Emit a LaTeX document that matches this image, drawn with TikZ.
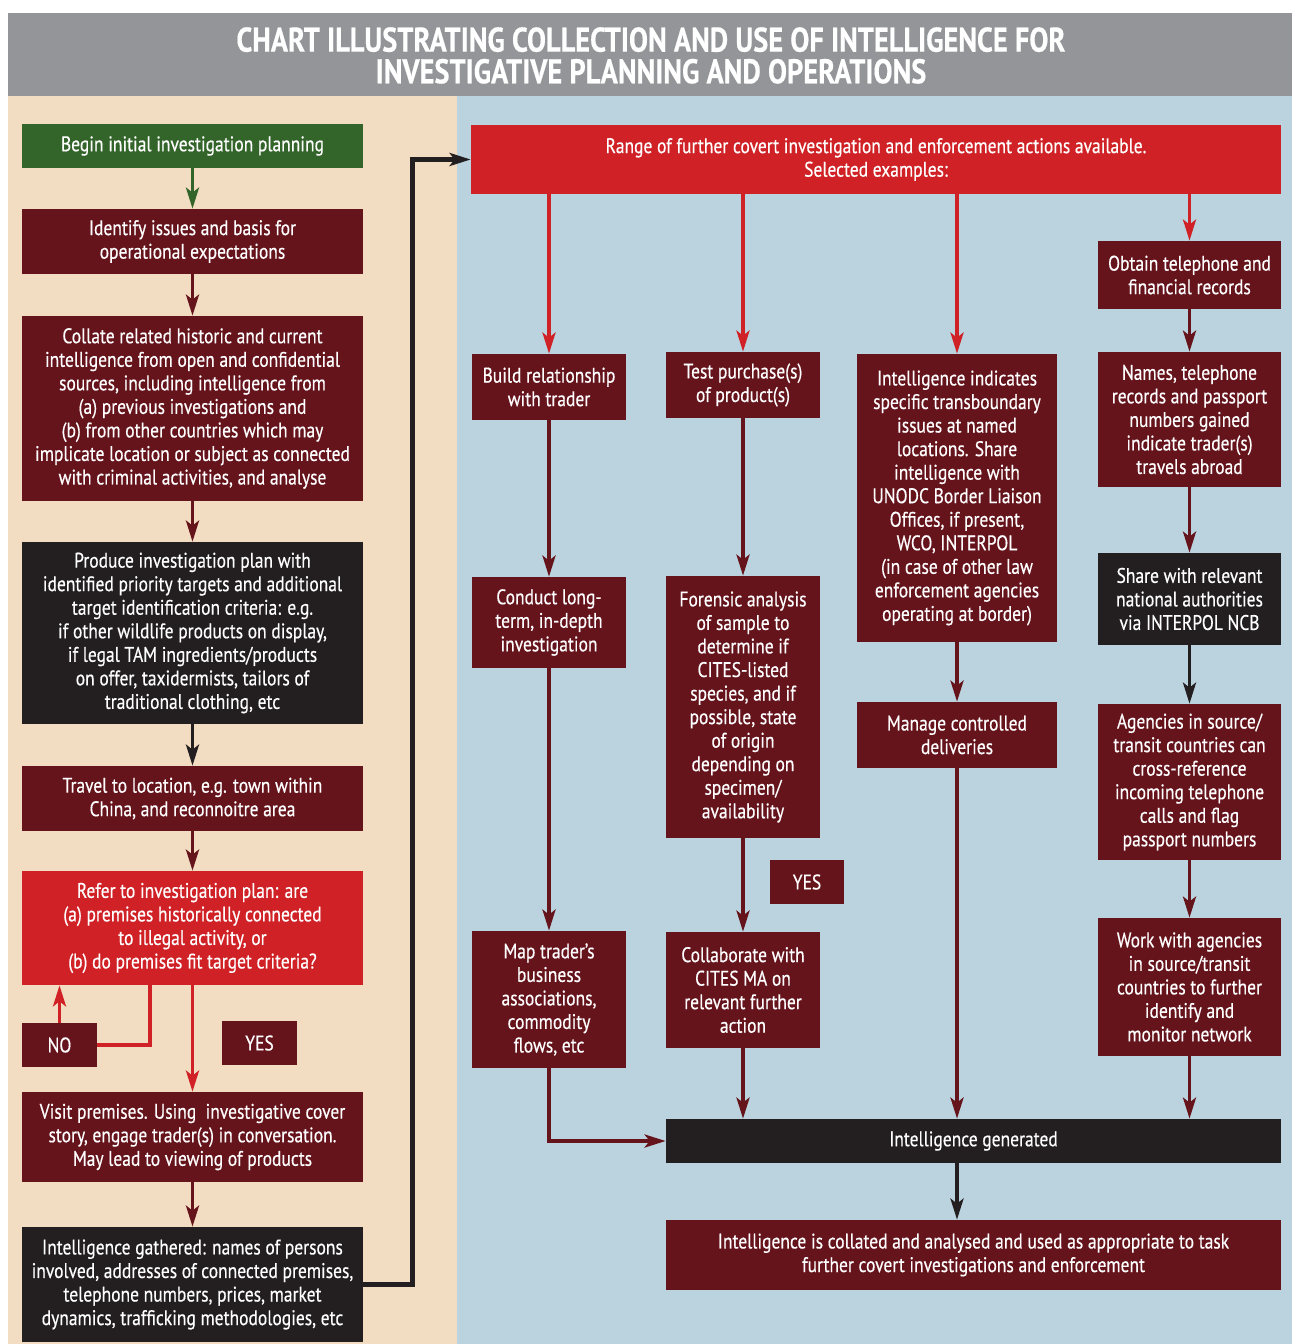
\documentclass[tikz,border=0pt]{standalone}
\usepackage{fontspec}
\setmainfont{PT Sans}[FakeStretch=0.83, FakeBold=0.4]
\usetikzlibrary{arrows.meta}

\definecolor{bandgray}{HTML}{939598}
\definecolor{paneltan}{HTML}{F2DCC2}
\definecolor{panelblue}{HTML}{BAD3DE}
\definecolor{boxgreen}{HTML}{33652A}
\definecolor{boxdark}{HTML}{65141C}
\definecolor{boxred}{HTML}{D02226}
\definecolor{boxblack}{HTML}{231F20}

\tikzset{
  ibox/.style={rectangle, inner sep=0pt, text=white, align=center,
    font=\fontsize{12}{13.4}\selectfont},
  flow/.style={line width=0.07cm, -{Stealth[length=0.42cm,width=0.26cm,inset=0.1cm]}},
}

% box from its corners, in pixels of the reference
\newcommand{\flowbox}[7][boxdark]{%
  \node[ibox, fill=#1, minimum width={(#5-#3)*0.02cm},
    minimum height={(#6-#4)*0.02cm}] (#2) at ({(#3+#5)/2},{(#4+#6)/2}) {#7};}

\begin{document}
\begin{tikzpicture}[x=0.02cm, y=-0.02cm]
    \useasboundingbox (0,0) rectangle (1292,1344);
    \fill[bandgray] (8,13) rectangle (1292,96);
    \fill[paneltan] (8,96) rectangle (457,1344);
    \fill[panelblue] (457,96) rectangle (1292,1344);

    \node[text=white, align=center, font=\bfseries\fontsize{19.5}{18}\selectfont] (title) at (651,55.5)
      {CHART ILLUSTRATING COLLECTION AND USE OF INTELLIGENCE FOR\\INVESTIGATIVE PLANNING AND OPERATIONS};

    % left column
    \flowbox[boxgreen]{begin}{22}{124}{363}{168}{Begin initial investigation planning}
    \flowbox{issues}{22}{209}{363}{274}{Identify issues and basis for\\operational expectations}
    \flowbox{collate}{22}{316}{363}{501}{Collate related historic and current\\intelligence from open and confidential\\sources, including intelligence from\\(a) previous investigations and\\(b) from other countries which may\\implicate location or subject as connected\\with criminal activities, and analyse}
    \flowbox[boxblack]{plan}{22}{542}{363}{724}{Produce investigation plan with\\identified priority targets and additional\\target identification criteria: e.g.\\if other wildlife products on display,\\if legal TAM ingredients/products\\on offer, taxidermists, tailors of\\traditional clothing, etc}
    \flowbox{travel}{22}{766}{363}{831}{Travel to location, e.g. town within\\China, and reconnoitre area}
    \flowbox[boxred]{refer}{22}{871}{363}{985}{Refer to investigation plan: are\\(a) premises historically connected\\to illegal activity, or\\(b) do premises fit target criteria?}
    \flowbox{no}{22}{1023}{97}{1067}{NO}
    \flowbox{yes}{222}{1021}{297}{1065}{YES}
    \flowbox{visit}{22}{1092}{363}{1182}{Visit premises. Using\ \ investigative cover\\story, engage trader(s) in conversation.\\May lead to viewing of products}
    \flowbox[boxblack]{gathered}{22}{1227}{363}{1342}{Intelligence gathered: names of persons\\involved, addresses of connected premises,\\telephone numbers, prices, market\\dynamics, trafficking methodologies, etc}

    % right part
    \flowbox[boxred]{range}{471}{125}{1281}{194}{Range of further covert investigation and enforcement actions available.\\Selected examples:}
    \flowbox{build}{472}{354}{626}{420}{Build relationship\\with trader}
    \flowbox{conduct}{472}{577}{626}{668}{Conduct long-\\term, in-depth\\investigation}
    \flowbox{map}{472}{931}{626}{1068}{Map trader's\\business\\associations,\\commodity\\flows, etc}
    \flowbox{test}{666}{352}{820}{418}{Test purchase(s)\\of product(s)}
    \flowbox{forensic}{666}{576}{820}{838}{Forensic analysis\\of sample to\\determine if\\CITES-listed\\species, and if\\possible, state\\of origin\\depending on\\specimen/\\availability}
    \flowbox{yesb}{770}{860}{844}{904}{YES}
    \flowbox{collab}{666}{932}{820}{1048}{Collaborate with\\CITES MA on\\relevant further\\action}
    \flowbox{indicates}{857}{354}{1057}{642}{Intelligence indicates\\specific transboundary\\issues at named\\locations. Share\\intelligence with\\UNODC Border Liaison\\Offices, if present,\\WCO, INTERPOL\\(in case of other law\\enforcement agencies\\operating at border)}
    \flowbox{manage}{857}{702}{1057}{768}{Manage controlled\\deliveries}
    \flowbox{obtain}{1098}{241}{1281}{309}{Obtain telephone and\\financial records}
    \flowbox{names}{1098}{352}{1281}{487}{Names, telephone\\records and passport\\numbers gained\\indicate trader(s)\\travels abroad}
    \flowbox[boxblack]{share}{1098}{553}{1281}{645}{Share with relevant\\national authorities\\via INTERPOL NCB}
    \flowbox{agencies}{1098}{704}{1281}{860}{Agencies in source/\\transit countries can\\cross-reference\\incoming telephone\\calls and flag\\passport numbers}
    \flowbox{work}{1098}{918}{1281}{1056}{Work with agencies\\in source/transit\\countries to further\\identify and\\monitor network}
    \flowbox[boxblack]{generated}{666}{1119}{1281}{1163}{Intelligence generated}
    \flowbox{final}{666}{1220}{1281}{1290}{Intelligence is collated and analysed and used as appropriate to task\\further covert investigations and enforcement}

    \coordinate (nobend) at (150,1048);
    \coordinate (loop) at (412,159.5);

    % left column connectors
    \draw[flow, boxgreen] (begin) -- (issues);
    \draw[flow, boxdark] (issues) -- (collate);
    \draw[flow, boxdark] (collate) -- (plan);
    \draw[flow, boxblack] (plan) -- (travel);
    \draw[flow, boxdark] (travel) -- (refer);
    \draw[flow, boxred] (refer) -- (visit);
    \draw[line width=0.07cm, boxred] (refer.south -| nobend) |- (no.east);
    \draw[flow, boxred] (no) -- (no |- refer.south);
    \draw[flow, boxdark] (visit) -- (gathered);
    \draw[flow, boxblack, line width=0.1cm] (gathered.east) -| (loop) -- (range.west);

    % right part connectors
    \foreach \col in {build, test, indicates, obtain}
      \draw[flow, boxred] (\col |- range.south) -- (\col);
    \draw[flow, boxdark] (build) -- (conduct);
    \draw[flow, boxdark] (conduct) -- (map);
    \draw[flow, boxdark] (map) |- (generated);
    \draw[flow, boxdark] (test) -- (forensic);
    \draw[flow, boxdark] (forensic) -- (collab);
    \draw[flow, boxdark] (collab) -- (collab |- generated.north);
    \draw[flow, boxdark] (indicates) -- (manage);
    \draw[flow, boxdark] (manage) -- (manage |- generated.north);
    \draw[flow, boxdark] (obtain) -- (names);
    \draw[flow, boxdark] (names) -- (share);
    \draw[flow, boxblack] (share) -- (agencies);
    \draw[flow, boxdark] (agencies) -- (work);
    \draw[flow, boxdark] (work) -- (work |- generated.north);
    \draw[flow, boxblack] (generated.south -| manage) -- (final.north -| manage);
\end{tikzpicture}
\end{document}
